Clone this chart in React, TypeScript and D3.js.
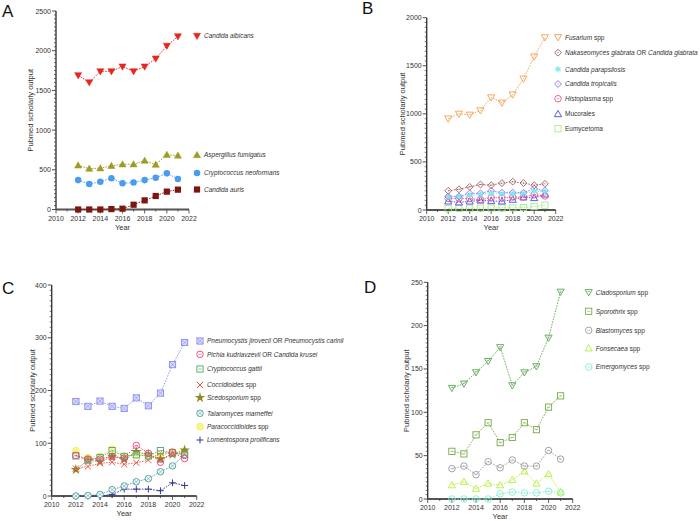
import React from 'react';
import * as d3 from 'd3';

const years = [2012, 2013, 2014, 2015, 2016, 2017, 2018, 2019, 2020, 2021];
const xTicks = [2010, 2012, 2014, 2016, 2018, 2020, 2022];

// Panel A
const albicans = [1690, 1600, 1740, 1740, 1800, 1740, 1800, 1900, 2060, 2180];
const fumigatus = [555, 515, 520, 550, 570, 570, 615, 565, 690, 680];
const neoformans = [370, 320, 350, 395, 330, 340, 370, 400, 455, 385];
const auris = [0, 0, 0, 5, 10, 60, 115, 170, 225, 250];

// Panel B
const fusarium = [950, 1000, 990, 1035, 1170, 1115, 1200, 1365, 1595, 1795];
const glabrata = [200, 215, 240, 265, 258, 280, 295, 280, 258, 272];
const parapsilosis = [135, 140, 150, 160, 170, 165, 168, 172, 195, 190];
const tropicalis = [142, 142, 172, 174, 198, 180, 180, 180, 222, 200];
const histoplasma = [121, 121, 118, 108, 128, 128, 135, 135, 160, 146];
const mucorales = [90, 80, 90, 100, 94, 90, 108, 132, 125, 163];
const eumycetoma = [14, 16, 18, 20, 20, 22, 22, 25, 35, 50];

// Panel C
const pneumocystis = [179, 170, 180, 170, 166, 186, 171, 195, 249, 291];
const pichia = [77, 70, 70, 75, 72, 96, 81, 64, 83, 71];
const gattii = [76, 68, 73, 86, 75, 78, 76, 86, 82, 78];
const coccidioides = [52, 56, 62, 64, 60, 63, 68, 82, 81, 81];
const scedosporium = [50, 68, 65, 75, 70, 84, 78, 70, 79, 87];
const talaromyces = [0, 1, 3, 12, 19, 27, 33, 46, 57, 79];
const paracocc = [86, 73, 75, 89, 76, 78, 76, 75, 84, 84];
const lomentospora = [0, 0, 0, 3, 13, 13, 13, 10, 25, 20];

// Panel D
const cladosporium = [128, 133, 146, 159, 175, 131, 146, 153, 186, 239];
const sporothrix = [55, 52, 74, 88, 65, 71, 88, 80, 106, 119];
const blastomyces = [35, 38, 28, 43, 36, 45, 38, 38, 56, 46];
const fonsecaea = [16, 20, 12, 18, 16, 22, 32, 18, 29, 8];
const emergomyces = [0, 0, 0, 0, 6, 8, 7, 7, 9, 7];

type Part = [string, boolean];
type Series = { name: Part[]; values: number[]; color: string; marker: string; fill?: string };

const seriesA: Series[] = [
  { name: [['Candida albicans', true]], values: albicans, color: '#e8251f', marker: 'triDownF' },
  { name: [['Aspergillus fumigatus', true]], values: fumigatus, color: '#a09a22', marker: 'triUpF' },
  { name: [['Cryptococcus neoformans', true]], values: neoformans, color: '#4a9cf2', marker: 'circleF' },
  { name: [['Candida auris', true]], values: auris, color: '#7e1610', marker: 'squareF' },
];
const seriesB: Series[] = [
  { name: [['Fusarium', true], [' spp', false]], values: fusarium, color: '#f2a04a', marker: 'triDown' },
  { name: [['Nakaseomyces glabrata', true], [' OR ', false], ['Candida glabrata', true]], values: glabrata, color: '#9a5a60', marker: 'diamondDot' },
  { name: [['Candida parapsilosis', true]], values: parapsilosis, color: '#6eeeee', marker: 'asterisk' },
  { name: [['Candida tropicalis', true]], values: tropicalis, color: '#9a6af2', marker: 'diamondDot' },
  { name: [['Histoplasma', true], [' spp', false]], values: histoplasma, color: '#f0508a', marker: 'circleDot' },
  { name: [['Mucorales', false]], values: mucorales, color: '#4848e8', marker: 'triUp' },
  { name: [['Eumycetoma', false]], values: eumycetoma, color: '#a6ee88', marker: 'square' },
];
const seriesC: Series[] = [
  { name: [['Pneumocystis jirovecii', true], [' OR ', false], ['Pneumocystis carinii', true]], values: pneumocystis, color: '#8a8cf0', marker: 'squareX', fill: '#dcdcfa' },
  { name: [['Pichia kudriavzevii', true], [' OR ', false], ['Candida krusei', true]], values: pichia, color: '#ee3a7a', marker: 'circleMinus' },
  { name: [['Cryptococcus gattii', true]], values: gattii, color: '#4aa860', marker: 'squareMinus' },
  { name: [['Coccidioides', true], [' spp', false]], values: coccidioides, color: '#ee5548', marker: 'x' },
  { name: [['Scedosporium', true], [' spp', false]], values: scedosporium, color: '#8a8a28', marker: 'star' },
  { name: [['Talaromyces marneffei', true]], values: talaromyces, color: '#4a9c9c', marker: 'circleX' },
  { name: [['Paracoccidioides', true], [' spp', false]], values: paracocc, color: '#f2ee40', marker: 'circleX', fill: '#fafaa0' },
  { name: [['Lomentospora prolificans', true]], values: lomentospora, color: '#353598', marker: 'plus' },
];
const seriesD: Series[] = [
  { name: [['Cladosporium', true], [' spp', false]], values: cladosporium, color: '#5aa650', marker: 'triDownMinus' },
  { name: [['Sporothrix', true], [' spp', false]], values: sporothrix, color: '#78a848', marker: 'squareMinus' },
  { name: [['Blastomyces', true], [' spp', false]], values: blastomyces, color: '#9a9a9a', marker: 'circleMinus' },
  { name: [['Fonsecaea', true], [' spp', false]], values: fonsecaea, color: '#b4ee38', marker: 'triUp' },
  { name: [['Emergomyces', true], [' spp', false]], values: emergomyces, color: '#80eed2', marker: 'circleMinus' },
];

const FONT = '"Liberation Sans", Arial, Helvetica, sans-serif';

function Marker({ type, x, y, color, fill, s = 3.1 }: { type: string; x: number; y: number; color: string; fill?: string; s?: number }) {
  const sw = 0.9;
  const f = fill || 'white';
  const t = s * 1.15;
  switch (type) {
    case 'triDownF':
      return <path d={`M${x - t},${y - t * 0.75}L${x + t},${y - t * 0.75}L${x},${y + t}Z`} fill={color} stroke={color} strokeWidth={0.5} />;
    case 'triUpF':
      return <path d={`M${x - t},${y + t * 0.75}L${x + t},${y + t * 0.75}L${x},${y - t}Z`} fill={color} stroke={color} strokeWidth={0.5} />;
    case 'circleF':
      return <circle cx={x} cy={y} r={s * 1.05} fill={color} />;
    case 'squareF':
      return <rect x={x - s} y={y - s} width={2 * s} height={2 * s} fill={color} />;
    case 'triDown':
      return <path d={`M${x - t},${y - t * 0.75}L${x + t},${y - t * 0.75}L${x},${y + t}Z`} fill="none" stroke={color} strokeWidth={sw} />;
    case 'triDownMinus':
      return <g><path d={`M${x - t},${y - t * 0.75}L${x + t},${y - t * 0.75}L${x},${y + t}Z`} fill="none" stroke={color} strokeWidth={sw} /><line x1={x - t * 0.35} x2={x + t * 0.35} y1={y - t * 0.2} y2={y - t * 0.2} stroke={color} strokeWidth={0.6} /></g>;
    case 'triUp':
      return <path d={`M${x - t},${y + t * 0.75}L${x + t},${y + t * 0.75}L${x},${y - t}Z`} fill="none" stroke={color} strokeWidth={sw} />;
    case 'square':
      return <rect x={x - s} y={y - s} width={2 * s} height={2 * s} fill="none" stroke={color} strokeWidth={sw} />;
    case 'squareMinus':
      return <g><rect x={x - s} y={y - s} width={2 * s} height={2 * s} fill={f} fillOpacity={0.3} stroke={color} strokeWidth={sw} /><line x1={x - s * 0.5} x2={x + s * 0.5} y1={y} y2={y} stroke={color} strokeWidth={0.6} /></g>;
    case 'squareX':
      return <g><rect x={x - s} y={y - s} width={2 * s} height={2 * s} fill={f} stroke={color} strokeWidth={sw} /><path d={`M${x - s},${y - s}L${x + s},${y + s}M${x + s},${y - s}L${x - s},${y + s}`} stroke={color} strokeWidth={0.6} /></g>;
    case 'circleMinus':
      return <g><circle cx={x} cy={y} r={s * 1.05} fill="none" stroke={color} strokeWidth={sw} /><line x1={x - s * 0.5} x2={x + s * 0.5} y1={y} y2={y} stroke={color} strokeWidth={0.6} /></g>;
    case 'circleDot':
      return <g><circle cx={x} cy={y} r={s * 1.05} fill="none" stroke={color} strokeWidth={sw} /><line x1={x - s * 0.4} x2={x + s * 0.4} y1={y} y2={y} stroke={color} strokeWidth={0.6} /></g>;
    case 'circleX': {
      const r = s * 1.05, k = r * 0.707;
      return <g><circle cx={x} cy={y} r={r} fill={f} stroke={color} strokeWidth={sw} /><path d={`M${x - k},${y - k}L${x + k},${y + k}M${x + k},${y - k}L${x - k},${y + k}`} stroke={color} strokeWidth={0.6} /></g>;
    }
    case 'diamondDot':
      return <g><path d={`M${x},${y - s * 1.1}L${x + s * 1.1},${y}L${x},${y + s * 1.1}L${x - s * 1.1},${y}Z`} fill="none" stroke={color} strokeWidth={sw} /><circle cx={x} cy={y} r={0.6} fill={color} /></g>;
    case 'asterisk': {
      const p = d3.symbol(d3.symbolAsterisk, 30)();
      return <g transform={`translate(${x},${y})`}><circle r={s * 0.8} fill={color} fillOpacity={0.6} /><path d={p || ''} stroke={color} strokeWidth={0.8} fill="none" /></g>;
    }
    case 'x':
      return <path d={`M${x - s},${y - s}L${x + s},${y + s}M${x + s},${y - s}L${x - s},${y + s}`} stroke={color} strokeWidth={1} />;
    case 'plus':
      return <path d={`M${x - s * 1.1},${y}L${x + s * 1.1},${y}M${x},${y - s * 1.1}L${x},${y + s * 1.1}`} stroke={color} strokeWidth={1} />;
    case 'star': {
      const p = d3.symbol(d3.symbolStar, 34)();
      return <path transform={`translate(${x},${y})`} d={p || ''} fill={color} />;
    }
    default:
      return <circle cx={x} cy={y} r={s} fill={color} />;
  }
}

type PanelProps = {
  letter: string; lx: number; ly: number;
  x0: number; x1: number; y0: number; y1: number;
  yMax: number; yStep: number; yMinor: number;
  series: Series[];
  legX: number; legY: number[];
  titleX: number;
};

function Panel(p: PanelProps) {
  const xs = d3.scaleLinear().domain([2010, 2022]).range([p.x0, p.x1]);
  const ys = d3.scaleLinear().domain([0, p.yMax]).range([p.y0, p.y1]);
  const majors = d3.range(0, p.yMax + 0.001, p.yStep);
  const minors = d3.range(0, p.yMax + 0.001, p.yMinor).filter(v => Math.abs(v / p.yStep - Math.round(v / p.yStep)) > 1e-6);
  const line = d3.line<number>().x((_, i) => xs(years[i])).y(v => ys(v));
  const axisColor = '#3a3a3a';
  return (
    <g fontFamily={FONT}>
      <text x={p.lx} y={p.ly} fontSize={17} fill="#111">{p.letter}</text>
      <line x1={p.x0} x2={p.x0} y1={p.y0} y2={p.y1} stroke={axisColor} strokeWidth={1.4} />
      {minors.map(v => <line key={'m' + v} x1={p.x0 - 2} x2={p.x0} y1={ys(v)} y2={ys(v)} stroke={axisColor} strokeWidth={0.7} />)}
      {majors.map(v => (
        <g key={'M' + v}>
          <line x1={p.x0 - 4} x2={p.x0} y1={ys(v)} y2={ys(v)} stroke={axisColor} strokeWidth={0.9} />
          <text x={p.x0 - 5} y={ys(v) + 2.5} fontSize={7} textAnchor="end" fill="#333">{v}</text>
        </g>
      ))}
      <line x1={p.x0} x2={p.x1} y1={p.y0} y2={p.y0} stroke="#555" strokeWidth={2} />
      {d3.range(2010, 2023).map(yr => (
        <line key={'x' + yr} x1={xs(yr)} x2={xs(yr)} y1={p.y0} y2={p.y0 + (yr % 2 === 0 ? 4 : 2)} stroke={axisColor} strokeWidth={0.8} />
      ))}
      {xTicks.map(yr => (
        <text key={'xt' + yr} x={xs(yr)} y={p.y0 + 11} fontSize={7} textAnchor="middle" fill="#333">{yr}</text>
      ))}
      <text x={(p.x0 + p.x1) / 2} y={p.y0 + 20} fontSize={7.5} textAnchor="middle" fill="#333">Year</text>
      <text transform={`translate(${p.titleX},${(p.y0 + p.y1) / 2}) rotate(-90)`} fontSize={7.5} textAnchor="middle" fill="#333">Pubmed scholarly output</text>
      {p.series.slice().reverse().map((s, i) => (
        <g key={'s' + i}>
          <path d={line(s.values) || ''} fill="none" stroke={s.color} strokeWidth={0.9} strokeDasharray="1.6,1.2" />
          {s.values.map((v, j) => <Marker key={j} type={s.marker} x={xs(years[j])} y={ys(v)} color={s.color} fill={s.fill} />)}
        </g>
      ))}
      {p.series.map((s, i) => (
        <g key={'l' + i}>
          <Marker type={s.marker} x={p.legX} y={p.legY[i]} color={s.color} fill={s.fill} />
          <text x={p.legX + 7} y={p.legY[i] + 2.4} fontSize={6.5} fill="#333">
            {s.name.map((part, k) => <tspan key={k} fontStyle={part[1] ? 'italic' : 'normal'}>{part[0]}</tspan>)}
          </text>
        </g>
      ))}
    </g>
  );
}

export default function App() {
  return (
    <svg width={700} height={521} style={{ position: 'absolute', left: 0, top: 0, background: 'white' }}>
      <rect width={700} height={521} fill="white" />
      <Panel letter="A" lx={2} ly={17} x0={56} x1={189} y0={209.5} y1={11} yMax={2500} yStep={500} yMinor={50}
        series={seriesA} legX={197} legY={[36, 155, 173, 189.5]} titleX={33} />
      <Panel letter="B" lx={362} ly={14} x0={426.7} x1={555.7} y0={210} y1={17.7} yMax={2000} yStep={500} yMinor={50}
        series={seriesB} legX={558} legY={[37.3, 52.7, 69.3, 84, 98.7, 114, 128.7]} titleX={405} />
      <Panel letter="C" lx={2} ly={294} x0={51.7} x1={196.7} y0={496} y1={285} yMax={400} yStep={100} yMinor={10}
        series={seriesC} legX={200} legY={[341, 354.3, 369, 385, 397.7, 413.3, 426.7, 440]} titleX={35} />
      <Panel letter="D" lx={364} ly={293} x0={427.7} x1={572.7} y0={499} y1={282.3} yMax={250} yStep={50} yMinor={5}
        series={seriesD} legX={588.7} legY={[292.3, 311.3, 330.3, 348.3, 367]} titleX={409} />
    </svg>
  );
}
